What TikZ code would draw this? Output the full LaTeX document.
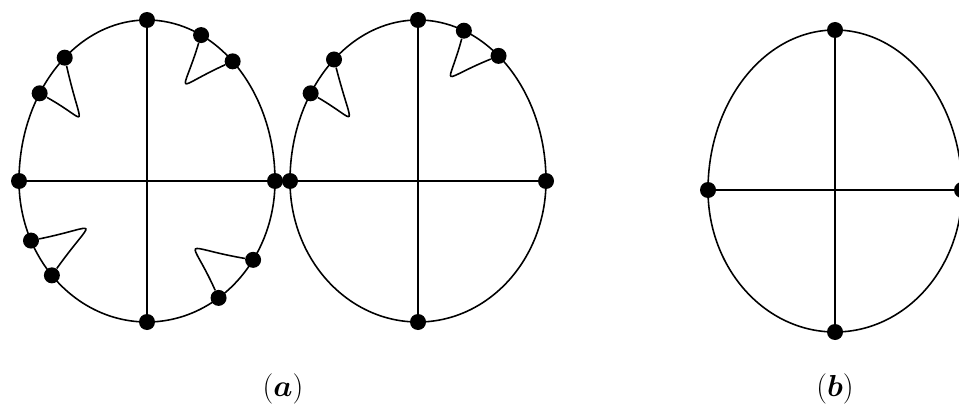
\documentclass[tikz,border=0pt]{standalone}
\usepackage{amsmath}
\usepackage{bm}
\usepackage{tikz}

\begin{document}
\begin{tikzpicture}[x=0.02cm, y=0.02cm,
    dot/.style={circle, fill=black, inner sep=0pt, minimum size=0.32cm},
    ring/.style={line width=0.9pt}]

            \useasboundingbox (0,0) rectangle (959,413);

            % graph (a), left
            \begin{scope}[shift={(147,232)}]
            \draw[ring] (128,0) arc[start angle=0, end angle=180, x radius=128, y radius=161]
                arc[start angle=180, end angle=360, x radius=128, y radius=141];
            \node[dot] (A1) at (90:128 and 161) {}; %top
            \node[dot] (A2) at (180:128 and 161) {}; %left
            \node[dot] (A3) at (270:128 and 141) {}; %bottom
            \node[dot] (A4) at (0:128 and 161) {}; %right
            \node[dot] (A5) at (130:128 and 161) {};
            \node[dot] (A6) at (147:128 and 161) {};
            \node[dot] (A7) at (65:128 and 161) {};
            \node[dot] (A8) at (48:128 and 161) {};
            \node[dot] (A9) at (205:128 and 141) {};
            \node[dot] (A10) at (222:128 and 141) {};
            \node[dot] (A11) at (326:128 and 141) {};
            \node[dot] (A12) at (304:128 and 141) {};
            \end{scope}

            % graph (a), right
            \begin{scope}[shift={(418,232)}]
            \draw[ring] (128,0) arc[start angle=0, end angle=180, x radius=128, y radius=161]
                arc[start angle=180, end angle=360, x radius=128, y radius=141];
            \node[dot] (B1) at (90:128 and 161) {}; %top
            \node[dot] (B2) at (180:128 and 161) {}; %left
            \node[dot] (B3) at (270:128 and 141) {}; %bottom
            \node[dot] (B4) at (0:128 and 161) {}; %right
            \node[dot] (B5) at (131:128 and 161) {};
            \node[dot] (B6) at (147:128 and 161) {};
            \node[dot] (B7) at (69:128 and 161) {};
            \node[dot] (B8) at (51:128 and 161) {};
            \end{scope}

            % graph (b)
            \begin{scope}[shift={(835,223)}]
            \draw[ring] (127,0) arc[start angle=0, end angle=180, x radius=127, y radius=160]
                arc[start angle=180, end angle=360, x radius=127, y radius=142];
            \node[dot] (C1) at (90:127 and 160) {}; %top
            \node[dot] (C2) at (180:127 and 160) {}; %left
            \node[dot] (C3) at (270:127 and 142) {}; %bottom
            \node[dot] (C4) at (0:127 and 160) {}; %right
            \end{scope}

            \path[ring]
            (A1) edge (A3)
            (A2) edge (A4)
            (B1) edge (B3)
            (B2) edge (B4)
            (C1) edge (C3)
            (C2) edge (C4);

            % loops
            \draw[ring] (A5) .. controls (82,279) and (91,291) .. (A6);
            \draw[ring] (A7) .. controls (182,315) and (172,324) .. (A8);
            \draw[ring] (A9) .. controls (102,187) and (95,198) .. (A10);
            \draw[ring] (A11) .. controls (178,166) and (190,179) .. (A12);
            \draw[ring] (B5) .. controls (353,280) and (360,291) .. (B6);
            \draw[ring] (B7) .. controls (448,323) and (437,332) .. (B8);

            \node (la) at (283,24) {\fontsize{16}{19}\selectfont $(\bm{a})$};
            \node (lb) at (835,24) {\fontsize{16}{19}\selectfont $(\bm{b})$};

\end{tikzpicture}
\end{document}
